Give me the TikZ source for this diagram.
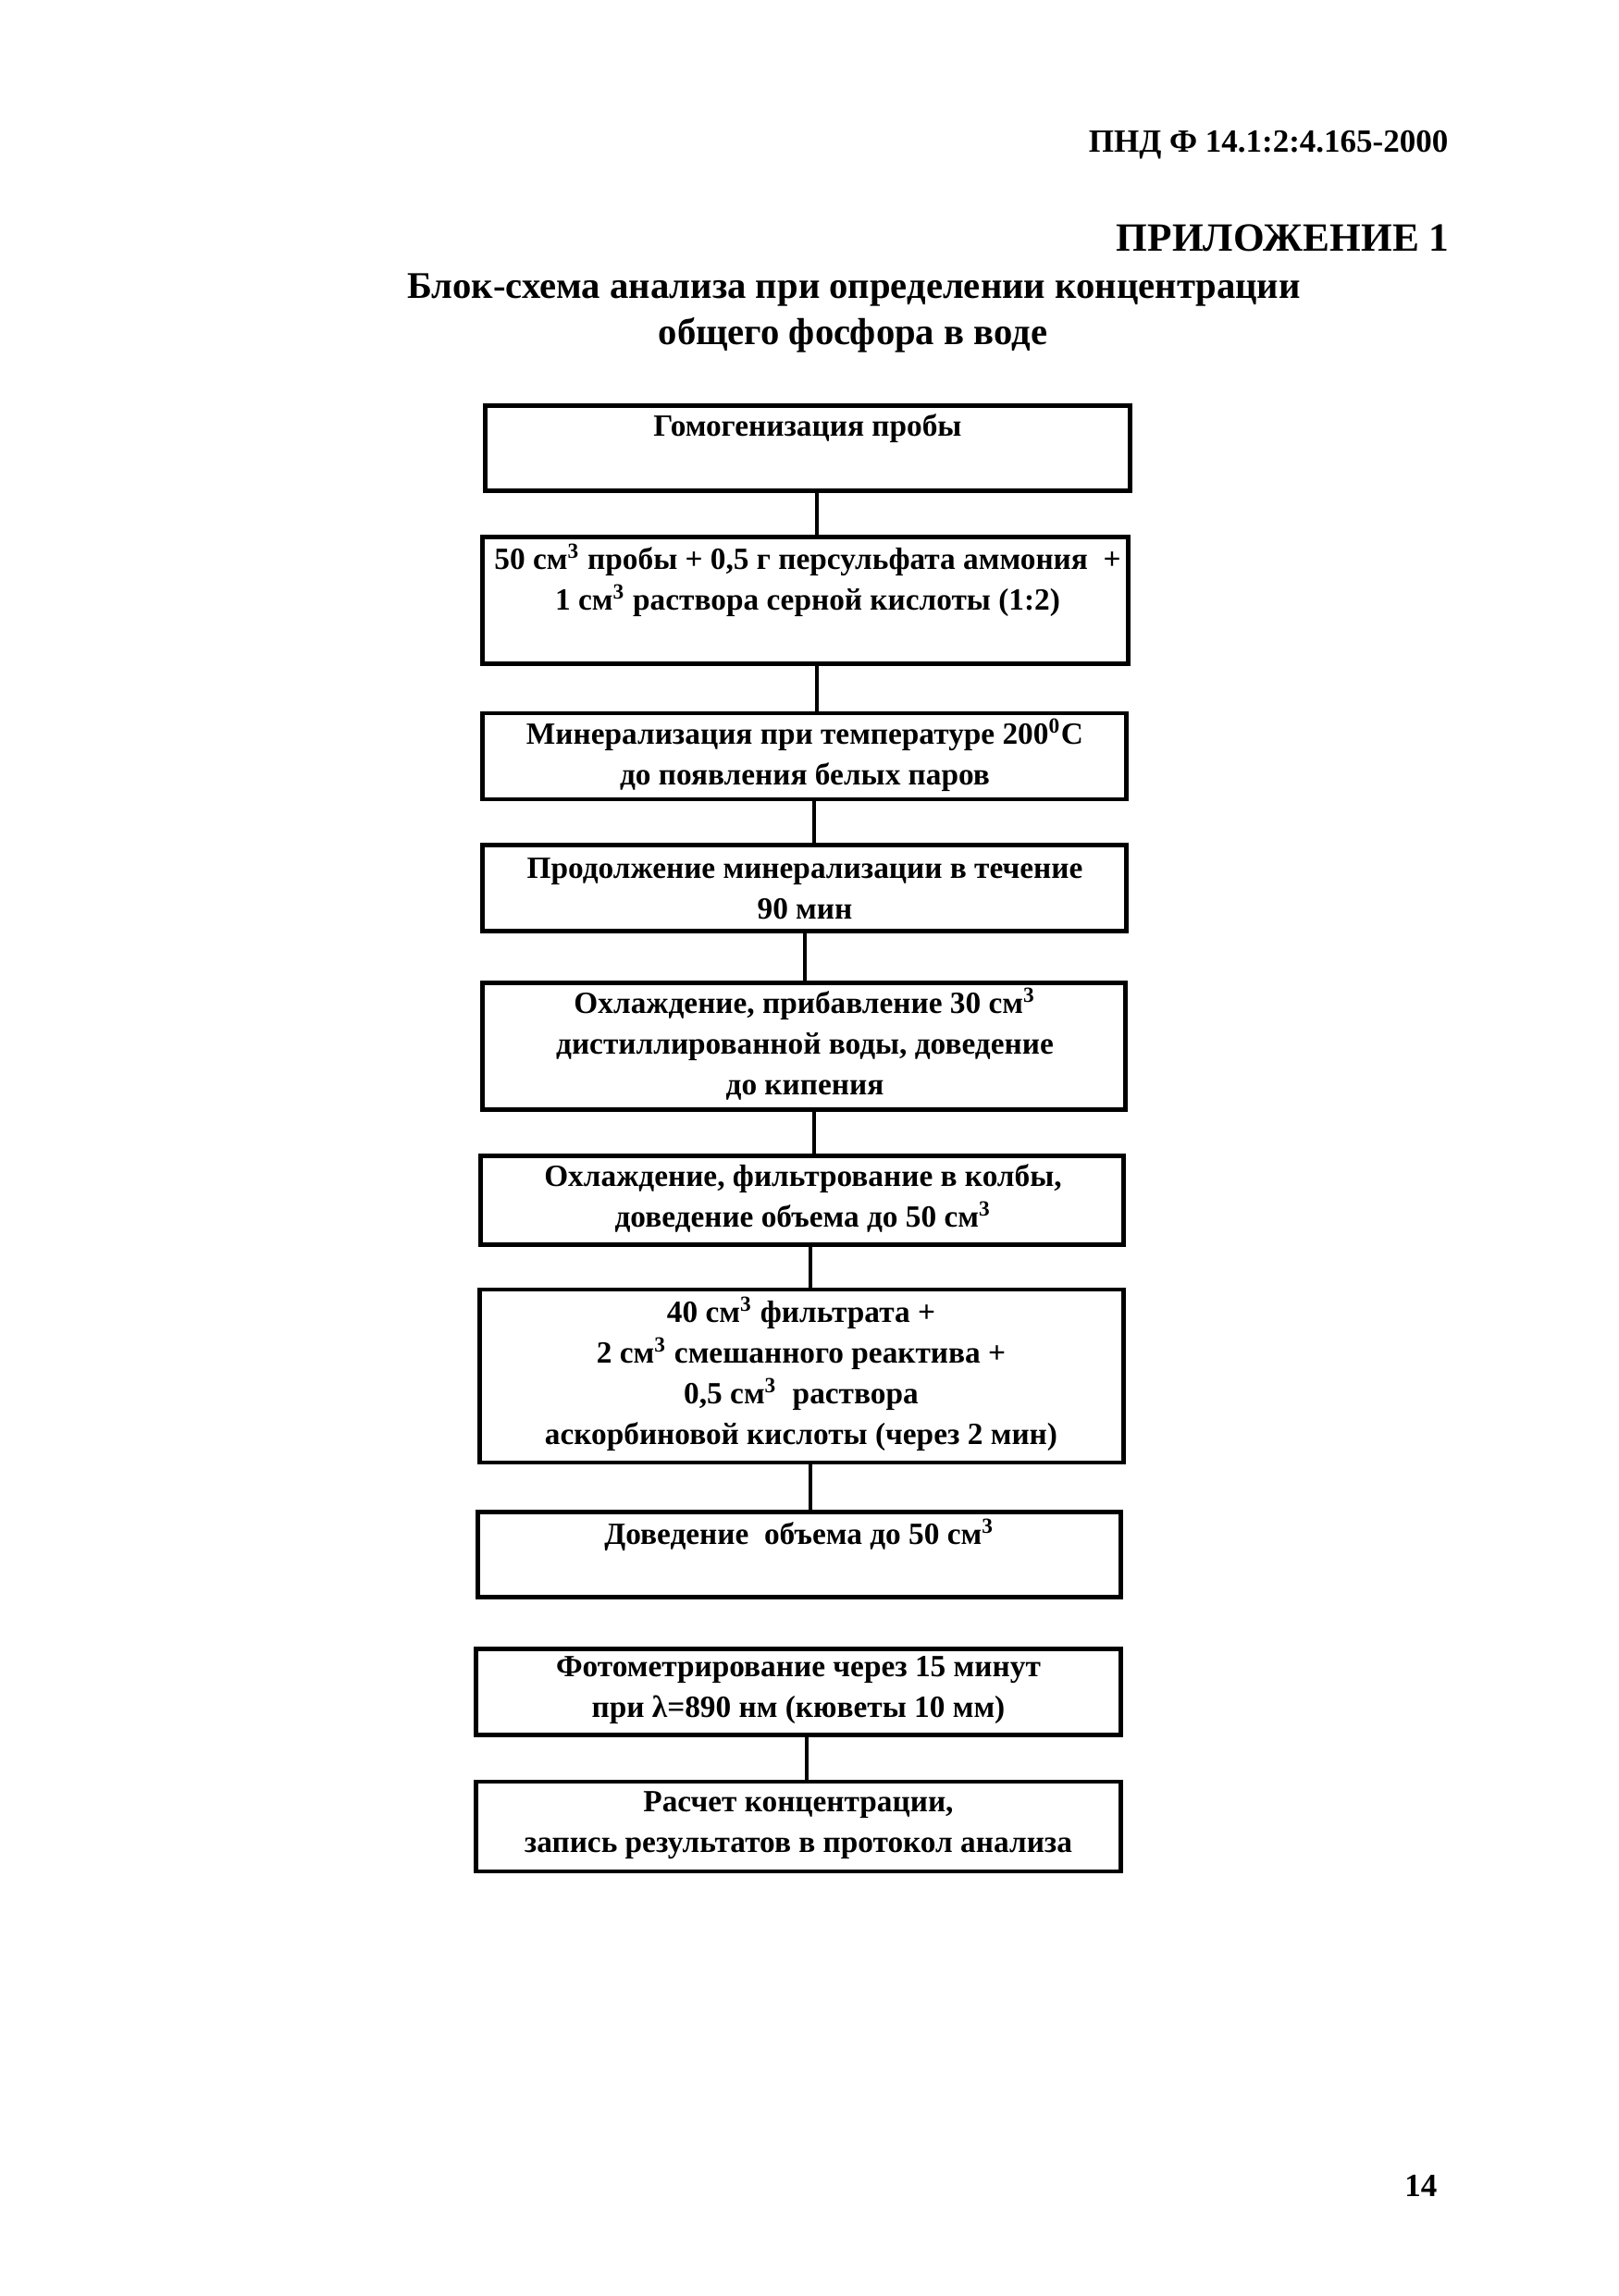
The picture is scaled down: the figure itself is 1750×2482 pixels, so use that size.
\documentclass[tikz,border=0pt]{standalone}
\usepackage{fontspec}
\setmainfont{Liberation Serif}
\begin{document}
\begin{tikzpicture}[x=0.3pt,y=-0.3pt,
  box/.style={draw=black,line width=1.4pt,rectangle,inner sep=0pt},
  bwh/.style 2 args={minimum width=#1*0.3pt,minimum height=#2*0.3pt},
  txt/.style={align=center,inner sep=0pt,font=\bfseries\fontsize{10}{13.2}\selectfont},
  conn/.style={draw=black,line width=1pt},
  hdr/.style={inner sep=0pt,font=\bfseries}]
\useasboundingbox[fill=white] (0,0) rectangle (1750,2482);

% header
\node[hdr,anchor=east,font=\bfseries\fontsize{10.5}{12}\selectfont] (code) at (1566,157) {ПНД Ф 14.1:2:4.165-2000};
\node[hdr,anchor=east,font=\bfseries\fontsize{13}{15}\selectfont] (app) at (1567,257) {ПРИЛОЖЕНИЕ 1};
\node[hdr,font=\bfseries\fontsize{12.2}{14}\selectfont] (title1) at (923,313) {Блок-схема анализа при определении концентрации};
\node[hdr,font=\bfseries\fontsize{12.2}{14}\selectfont] (title2) at (922,362) {общего фосфора в воде};

% boxes
\node[box,bwh={697}{92}]  (b1)  at (873,484.7) {};
\node[box,bwh={698}{137}] (b2)  at (870.5,648.7) {};
\node[box,bwh={696}{93}]  (b3)  at (869.5,817.6) {};
\node[box,bwh={696}{93}]  (b4)  at (869.5,959.8) {};
\node[box,bwh={695}{137}] (b5)  at (869,1130.7) {};
\node[box,bwh={695}{96}]  (b6)  at (867,1297.2) {};
\node[box,bwh={696}{187}] (b7)  at (866.5,1487.5) {};
\node[box,bwh={695}{92}]  (b8)  at (864,1680.3) {};
\node[box,bwh={697}{93}]  (b9)  at (863,1829.3) {};
\node[box,bwh={697}{97}]  (b10) at (863,1974.4) {};

% texts
\node[txt] (t1) at (873,462.9) {Гомогенизация пробы};
\node[txt] (t2) at (873,627.3) {50 см\textsuperscript{3} пробы + 0,5 г персульфата аммония\ \ +\\1 см\textsuperscript{3} раствора серной кислоты (1:2)};
\node[txt] (t3) at (870,816.2) {Минерализация при температуре 200\textsuperscript{0}С\\до появления белых паров};
\node[txt] (t4) at (870,960.3) {Продолжение минерализации в течение\\90 мин};
\node[txt] (t5) at (870,1128.7) {Охлаждение, прибавление 30 см\textsuperscript{3}\\дистиллированной воды, доведение\\до кипения};
\node[txt] (t6) at (868,1295.2) {Охлаждение, фильтрование в колбы,\\доведение объема до 50 см\textsuperscript{3}};
\node[txt] (t7) at (866,1485) {40 см\textsuperscript{3} фильтрата +\\2 см\textsuperscript{3} смешанного реактива +\\0,5 см\textsuperscript{3}\ \ раствора\\аскорбиновой кислоты (через 2 мин)};
\node[txt] (t8) at (864,1659.4) {Доведение\ \ объема до 50 см\textsuperscript{3}};
\node[txt] (t9) at (863,1827.3) {Фотометрирование через 15 минут\\при λ=890 нм (кюветы 10 мм)};
\node[txt] (t10) at (863,1972.9) {Расчет концентрации,\\запись результатов в протокол анализа};

% connector positions
\coordinate (k1) at (883,0);
\coordinate (k2) at (883,0);
\coordinate (k3) at (880,0);
\coordinate (k4) at (870,0);
\coordinate (k5) at (880,0);
\coordinate (k6) at (876,0);
\coordinate (k7) at (876,0);
\coordinate (k9) at (872,0);

\draw[conn] (b1.south -| k1) -- (b2.north -| k1);
\draw[conn] (b2.south -| k2) -- (b3.north -| k2);
\draw[conn] (b3.south -| k3) -- (b4.north -| k3);
\draw[conn] (b4.south -| k4) -- (b5.north -| k4);
\draw[conn] (b5.south -| k5) -- (b6.north -| k5);
\draw[conn] (b6.south -| k6) -- (b7.north -| k6);
\draw[conn] (b7.south -| k7) -- (b8.north -| k7);
\draw[conn] (b9.south -| k9) -- (b10.north -| k9);

% page number
\node[hdr,anchor=east,font=\bfseries\fontsize{10.5}{12}\selectfont] (page) at (1554,2363) {14};
\end{tikzpicture}
\end{document}
